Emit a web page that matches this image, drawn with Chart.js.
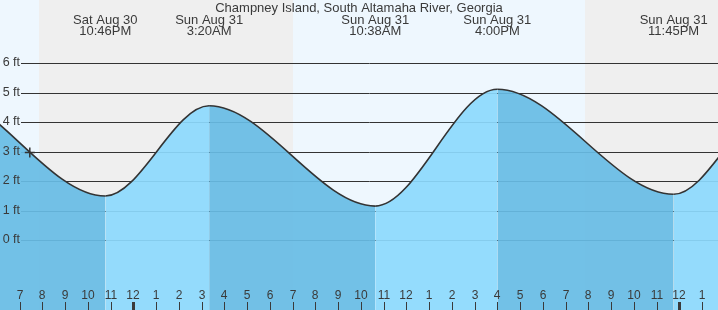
<!DOCTYPE html>
<html>
<head>
<meta charset="utf-8">
<script src="https://cdn.jsdelivr.net/npm/chart.js@4"></script>
<style>
   html, body { margin: 0; padding: 0; background: #eef7fe; }
   #wrap { width: 718px; height: 310px; }
</style>
</head>
<body>
<div id="wrap"><canvas id="tideChart" width="718" height="310"></canvas></div>
<script>
// times are hours from midnight, Sun Aug 31 (negative = Sat Aug 30)
const chartTitle = "Champney Island, South Altamaha River, Georgia";

// high / low tides; the two at each end are outside the window (estimated)
const tideTimes = [-14.0, -8.75, -1.233, 3.333, 10.633, 16.0, 23.75, 28.2, 35.7];
const tideHeights = [1.1, 5.1, 1.49, 4.55, 1.15, 5.11, 1.55, 4.55, 1.2];
const tideDates = ["", "", "Sat Aug 30", "Sun Aug 31", "Sun Aug 31", "Sun Aug 31", "Sun Aug 31", "", ""];
const tideClock = ["", "", "10:46PM", "3:20AM", "10:38AM", "4:00PM", "11:45PM", "", ""];

// current time marker
const nowTime = -4.55;
const nowHeight = 2.97;

// sunset / sunrise
const nightStarts = [-4.15, 19.85];
const nightEnds = [7.02, 31];

const hourTicks = [-5, -4, -3, -2, -1, 0, 1, 2, 3, 4, 5, 6, 7, 8, 9, 10, 11, 12, 13, 14, 15, 16, 17, 18, 19, 20, 21, 22, 23, 24, 25];
const hourLabels = ["7", "8", "9", "10", "11", "12", "1", "2", "3", "4", "5", "6", "7", "8", "9", "10", "11", "12", "1", "2", "3", "4", "5", "6", "7", "8", "9", "10", "11", "12", "1"];

const feetTicks = [0, 1, 2, 3, 4, 5, 6];
const feetLabels = ["0 ft", "1 ft", "2 ft", "3 ft", "4 ft", "5 ft", "6 ft"];

const textColor = "#3a3a3a";
const fallingFill = "rgba(103, 188, 229, 0.92)";
const risingFill = "rgba(140, 217, 253, 0.92)";
const FONT = "'Liberation Sans', Arial, sans-serif";

const backdrop = {
   id: "backdrop",
   beforeDraw(chart) {
      const { ctx, chartArea, scales } = chart;
      const x = scales.x, y = scales.y;
      ctx.save();
      ctx.fillStyle = "#eef7fe";
      ctx.fillRect(chartArea.left, chartArea.top, chartArea.width, chartArea.height);
      ctx.fillStyle = "#efefef";
      nightStarts.forEach((s, i) => {
         const x0 = Math.max(x.getPixelForValue(s), chartArea.left);
         const x1 = Math.min(x.getPixelForValue(nightEnds[i]), chartArea.right);
         ctx.fillRect(Math.round(x0), chartArea.top, Math.round(x1) - Math.round(x0), chartArea.height);
      });
      // grid lines, covered later by the translucent fill
      ctx.strokeStyle = "#333";
      ctx.lineWidth = 1;
      feetTicks.forEach((v) => {
         const py = Math.round(y.getPixelForValue(v)) + 0.5;
         ctx.beginPath();
         ctx.moveTo(21, py);
         ctx.lineTo(chartArea.right, py);
         ctx.stroke();
      });
      ctx.restore();
   },
   afterDraw(chart) {
      const { ctx, chartArea, scales } = chart;
      const x = scales.x, y = scales.y;
      ctx.save();
      ctx.fillStyle = textColor;
      ctx.textBaseline = "middle";

      // y labels
      ctx.font = "12.5px " + FONT;
      ctx.textAlign = "right";
      feetTicks.forEach((v, i) => {
         ctx.fillText(feetLabels[i], 20, y.getPixelForValue(v));
      });

      // title
      ctx.font = "13px " + FONT;
      ctx.textAlign = "center";
      ctx.fillText(chartTitle, chartArea.width / 2, 8);

      // high / low labels
      tideTimes.forEach((t, i) => {
         if (!tideDates[i]) return;
         const px = x.getPixelForValue(t);
         ctx.fillText(tideDates[i], px, 20);
         ctx.fillText(tideClock[i], px, 31.5);
      });

      // hour labels and ticks
      ctx.font = "12px " + FONT;
      hourTicks.forEach((h, i) => {
         const px = Math.round(x.getPixelForValue(h));
         ctx.fillText(hourLabels[i], px, 296);
         const midnight = h % 24 === 0;
         ctx.fillRect(midnight ? px - 1 : px, 302, midnight ? 3 : 1, chartArea.bottom - 302);
      });
      ctx.restore();
   },
};

const ctx = document.getElementById("tideChart").getContext("2d");
const chart = new Chart(ctx, {
   type: "line",
   data: {
      datasets: [
         {
            data: tideTimes.map((t, i) => ({ x: t, y: tideHeights[i] })),
            order: 2,
            borderColor: "#333",
            borderWidth: 1.6,
            pointRadius: 0,
            cubicInterpolationMode: "monotone",
            fill: "start",
            backgroundColor: risingFill,
            segment: {
               backgroundColor: (c) => (c.p1.parsed.y < c.p0.parsed.y ? fallingFill : risingFill),
            },
         },
         {
            data: [{ x: nowTime, y: nowHeight }],
            order: 1, // drawn on top of the tide curve
            showLine: false,
            fill: false,
            pointStyle: "cross",
            pointRadius: 5,
            borderColor: "#333",
            borderWidth: 1.5,
         },
      ],
   },
   options: {
      responsive: false,
      animation: false,
      layout: { padding: 0, autoPadding: false },
      events: [],
      scales: {
         x: { type: "linear", min: -5.86, max: 25.70, display: false },
         y: { type: "linear", min: -2.373, max: 8.136, display: false },
      },
      plugins: {
         legend: { display: false },
         tooltip: { enabled: false },
         title: { display: false },
      },
   },
   plugins: [backdrop],
});
</script>
</body>
</html>
